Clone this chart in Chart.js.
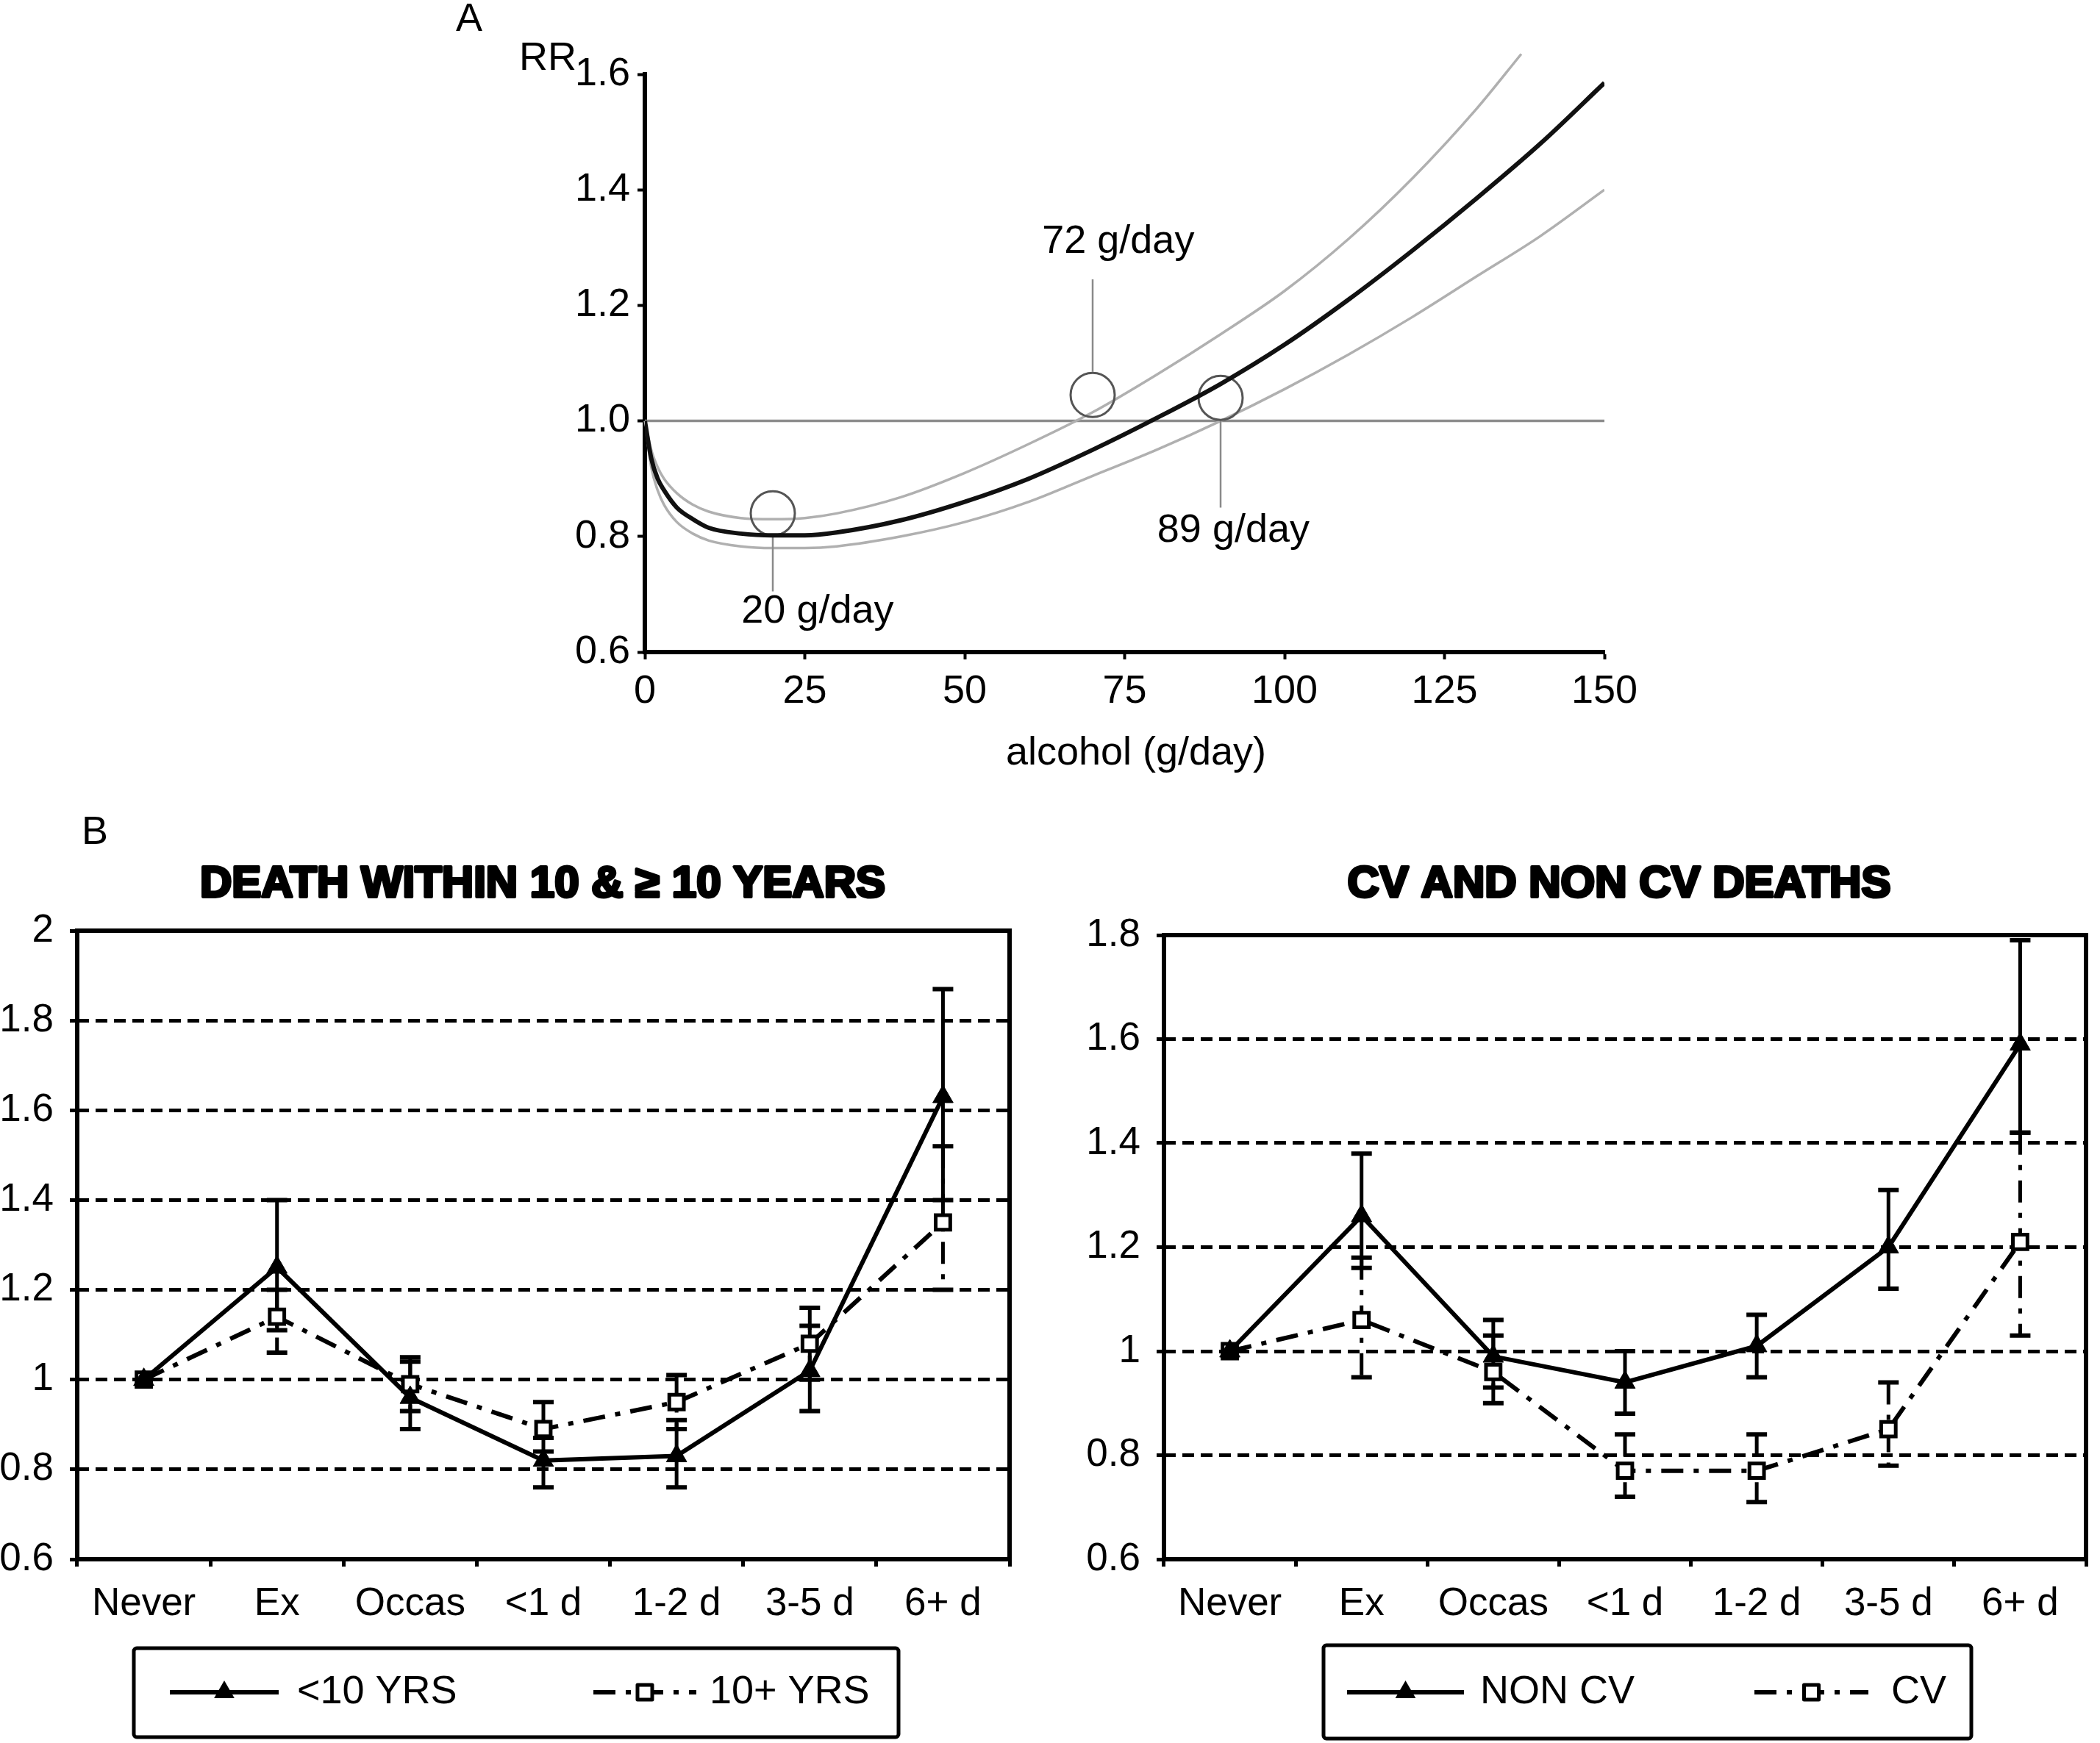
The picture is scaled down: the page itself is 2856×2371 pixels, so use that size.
<!DOCTYPE html>
<html>
<head>
<meta charset="utf-8">
<script src="https://cdn.jsdelivr.net/npm/chart.js@4.4.1/dist/chart.umd.min.js"></script>
<style>
html,body{margin:0;padding:0;background:#fff;}
body{width:2856px;height:2371px;position:relative;overflow:hidden;}
canvas{position:absolute;}
#cA{left:600px;top:0px;}
#cB1{left:0px;top:1100px;}
#cB2{left:1420px;top:1100px;}
</style>
</head>
<body>
<canvas id="cA" width="1700" height="1100"></canvas>
<canvas id="cB1" width="1420" height="1271"></canvas>
<canvas id="cB2" width="1436" height="1271"></canvas>
<script>
const FONT = "'Liberation Sans', Arial, Helvetica, sans-serif";

// ---------- Panel A data ----------
const alcoholX   = [0, 1, 2, 3, 5, 7.5, 10, 15, 20, 25, 30, 40, 50, 60, 70, 80, 90, 100, 110, 120, 130, 140, 150];
const rrCentral  = [1.00, 0.935, 0.90, 0.88, 0.85, 0.83, 0.815, 0.805, 0.802, 0.802, 0.807, 0.828, 0.86, 0.90, 0.95, 1.005, 1.064, 1.132, 1.21, 1.295, 1.385, 1.48, 1.585];
const rrLower    = [1.00, 0.92, 0.88, 0.855, 0.825, 0.805, 0.793, 0.783, 0.78, 0.78, 0.783, 0.80, 0.825, 0.86, 0.905, 0.95, 1.0, 1.055, 1.115, 1.18, 1.25, 1.32, 1.40];
const upperX     = [0, 1, 2, 3, 5, 7.5, 10, 15, 20, 25, 30, 40, 50, 60, 70, 80, 90, 100, 110, 120, 130, 137];
const rrUpper    = [1.00, 0.95, 0.92, 0.90, 0.875, 0.855, 0.843, 0.832, 0.830, 0.832, 0.84, 0.868, 0.91, 0.96, 1.015, 1.08, 1.15, 1.225, 1.315, 1.42, 1.54, 1.635];
const refX       = [0, 150];
const refY       = [1.0, 1.0];
const markX      = [20, 70, 90];
const markY      = [0.84, 1.045, 1.04];
const leaderTop  = [0.80, 1.245, 1.0];
const leaderBot  = [0.705, 1.085, 0.85];
const markLabels = ['20 g/day', '72 g/day', '89 g/day'];
const markLabelX = [27, 74, 92];
const markLabelY = [0.67, 1.31, 0.81];

// ---------- Panel B data ----------
const categories = ['Never', 'Ex', 'Occas', '<1 d', '1-2 d', '3-5 d', '6+ d'];

const under10    = [1.00, 1.25, 0.96, 0.82, 0.83, 1.02, 1.63];
const under10Lo  = [null, 1.11, 0.89, 0.76, 0.76, 0.93, 1.40];
const under10Hi  = [null, 1.40, 1.04, 0.87, 0.91, 1.12, 1.87];
const over10     = [1.00, 1.14, 0.99, 0.89, 0.95, 1.08, 1.35];
const over10Lo   = [null, 1.06, 0.93, 0.84, 0.89, 1.00, 1.20];
const over10Hi   = [null, 1.20, 1.05, 0.95, 1.01, 1.16, 1.52];

const nonCV      = [1.00, 1.26, 0.99, 0.94, 1.01, 1.20, 1.59];
const nonCVLo    = [null, 1.16, 0.93, 0.88, 0.95, 1.12, 1.42];
const nonCVHi    = [null, 1.38, 1.06, 1.00, 1.07, 1.31, 1.79];
const cv         = [1.00, 1.06, 0.96, 0.77, 0.77, 0.85, 1.21];
const cvLo       = [null, 0.95, 0.90, 0.72, 0.71, 0.78, 1.03];
const cvHi       = [null, 1.18, 1.03, 0.84, 0.84, 0.94, 1.42];

Chart.defaults.font.family = FONT;
Chart.defaults.color = '#000';

// ---------- Panel A ----------
const pts = (xs, ys) => xs.map((x, i) => ({x: x, y: ys[i]}));
const leaderData = [];
markX.forEach((x, i) => {
  leaderData.push({x: x, y: leaderTop[i]}, {x: x, y: leaderBot[i]}, {x: x, y: null});
});

const textA = {
  id: 'textA',
  afterDraw(chart) {
    const {ctx, scales: {x, y}} = chart;
    ctx.save();
    ctx.fillStyle = '#000';
    ctx.font = '54px ' + FONT;
    ctx.textAlign = 'center';
    ctx.textBaseline = 'middle';
    markLabels.forEach((t, i) => {
      ctx.fillText(t, x.getPixelForValue(markLabelX[i]), y.getPixelForValue(markLabelY[i]));
    });
    ctx.fillText('alcohol (g/day)', 945, 1025);
    ctx.textAlign = 'left';
    ctx.fillText('A', 20, 27);
    ctx.fillText('RR', 106, 80);
    ctx.restore();
  }
};

const axisCommonA = {
  grid: {display: true, drawOnChartArea: false, drawTicks: true, tickLength: 10, tickWidth: 4, tickColor: '#000'},
  border: {display: true, color: '#000', width: 6}
};

new Chart(document.getElementById('cA'), {
  type: 'line',
  data: {
    datasets: [
      {label: 'RR', data: pts(alcoholX, rrCentral), borderColor: '#111', borderWidth: 6, pointRadius: 0, cubicInterpolationMode: 'monotone'},
      {label: 'marks', data: pts(markX, markY), showLine: false, pointRadius: 30, pointHoverRadius: 30, pointBorderColor: '#555', pointBorderWidth: 3, pointBackgroundColor: 'rgba(0,0,0,0)'},
      {label: 'leaders', data: leaderData, borderColor: '#8a8a8a', borderWidth: 2.5, pointRadius: 0, tension: 0, spanGaps: false},
      {label: 'upper', data: pts(upperX, rrUpper), borderColor: '#b0b0b0', borderWidth: 3.5, pointRadius: 0, cubicInterpolationMode: 'monotone', clip: false},
      {label: 'lower', data: pts(alcoholX, rrLower), borderColor: '#b0b0b0', borderWidth: 3.5, pointRadius: 0, cubicInterpolationMode: 'monotone'},
      {label: 'ref', data: pts(refX, refY), borderColor: '#8c8c8c', borderWidth: 3.5, pointRadius: 0}
    ]
  },
  options: {
    responsive: false, animation: false, devicePixelRatio: 1,
    layout: {padding: {top: 101, right: 118, left: 0, bottom: 0}},
    plugins: {legend: {display: false}, tooltip: {enabled: false}},
    scales: {
      x: Object.assign({
        type: 'linear', min: 0, max: 150,
        ticks: {stepSize: 25, font: {size: 54}, color: '#000', padding: 12, maxRotation: 0, autoSkip: false},
        afterFit(s) { s.height = 213; }
      }, axisCommonA),
      y: Object.assign({
        type: 'linear', min: 0.6, max: 1.6,
        ticks: {stepSize: 0.2, font: {size: 54}, color: '#000', padding: 10, callback: v => Number(v).toFixed(1)},
        afterFit(s) { s.width = 277; }
      }, axisCommonA)
    }
  },
  plugins: [textA]
});

// ---------- Panel B ----------
const DASHDOT = [30, 14, 7, 14];

function drawMarker(ctx, style, x, y) {
  ctx.save();
  ctx.setLineDash([]);
  if (style === 'triangle') {
    const r = 16;
    ctx.fillStyle = '#000';
    ctx.beginPath();
    ctx.moveTo(x, y - r);
    ctx.lineTo(x + r * 0.866, y + r * 0.5);
    ctx.lineTo(x - r * 0.866, y + r * 0.5);
    ctx.closePath();
    ctx.fill();
  } else {
    const s = 10;
    ctx.fillStyle = '#fff';
    ctx.strokeStyle = '#000';
    ctx.lineWidth = 5;
    ctx.fillRect(x - s, y - s, 2 * s, 2 * s);
    ctx.strokeRect(x - s, y - s, 2 * s, 2 * s);
  }
  ctx.restore();
}

function makeB(id, cfg) {
  const errorBars = {
    id: 'errorBars',
    beforeDatasetsDraw(chart) {
      const {ctx, scales: {x, y}} = chart;
      ctx.save();
      chart.data.datasets.forEach(ds => {
        ds.errLo.forEach((lo, i) => {
          const hi = ds.errHi[i];
          if (lo == null || hi == null) return;
          const px = x.getPixelForValue(i);
          const py1 = y.getPixelForValue(lo), py2 = y.getPixelForValue(hi);
          ctx.strokeStyle = '#000';
          ctx.lineWidth = 5;
          ctx.setLineDash(ds.borderDash || []);
          ctx.beginPath(); ctx.moveTo(px, py2); ctx.lineTo(px, py1); ctx.stroke();
          ctx.setLineDash([]);
          ctx.lineWidth = 6;
          ctx.beginPath();
          ctx.moveTo(px - 14, py1); ctx.lineTo(px + 14, py1);
          ctx.moveTo(px - 14, py2); ctx.lineTo(px + 14, py2);
          ctx.stroke();
        });
      });
      ctx.restore();
    }
  };
  const frameAndText = {
    id: 'frameAndText',
    afterDraw(chart) {
      const {ctx, chartArea: a} = chart;
      ctx.save();
      ctx.strokeStyle = '#000';
      ctx.lineWidth = 6;
      ctx.setLineDash([]);
      ctx.strokeRect(a.left, a.top, a.right - a.left, a.bottom - a.top);
      // title
      ctx.fillStyle = '#000';
      ctx.textAlign = 'center';
      ctx.textBaseline = 'middle';
      ctx.font = 'bold 60px ' + FONT;
      ctx.lineWidth = 4;
      ctx.lineJoin = 'round';
      ctx.strokeText(cfg.title, cfg.titleX, 103);
      ctx.fillText(cfg.title, cfg.titleX, 103);
      if (cfg.panel) {
        ctx.font = '54px ' + FONT;
        ctx.fillText(cfg.panel, 129, 33);
      }
      // legend box
      const L = cfg.legend;
      ctx.lineWidth = 5;
      ctx.beginPath();
      if (ctx.roundRect) ctx.roundRect(L.x, L.y, L.w, L.h, 4); else ctx.rect(L.x, L.y, L.w, L.h);
      ctx.stroke();
      ctx.font = '54px ' + FONT;
      ctx.textAlign = 'left';
      chart.data.datasets.forEach((ds, i) => {
        const it = L.items[i];
        ctx.strokeStyle = '#000';
        ctx.lineWidth = 6;
        ctx.setLineDash(ds.borderDash || []);
        ctx.beginPath(); ctx.moveTo(it.x1, L.cy); ctx.lineTo(it.x2, L.cy); ctx.stroke();
        ctx.setLineDash([]);
        drawMarker(ctx, ds.pointStyle, (it.x1 + it.x2) / 2, L.cy);
        ctx.fillStyle = '#000';
        ctx.fillText(ds.label, it.tx, L.cy);
      });
      ctx.restore();
    }
  };

  const mk = (s) => s.style === 'solid' ? {
    label: s.label, data: s.data, errLo: s.lo, errHi: s.hi,
    borderColor: '#000', borderWidth: 6, pointStyle: 'triangle', pointRadius: 16,
    pointBackgroundColor: '#000', pointBorderColor: '#000', pointBorderWidth: 1, tension: 0
  } : {
    label: s.label, data: s.data, errLo: s.lo, errHi: s.hi,
    borderColor: '#000', borderWidth: 6, borderDash: DASHDOT, pointStyle: 'rect', pointRadius: 14,
    pointBackgroundColor: '#fff', pointBorderColor: '#000', pointBorderWidth: 5, tension: 0
  };

  new Chart(document.getElementById(id), {
    type: 'line',
    data: {labels: categories, datasets: cfg.series.map(mk)},
    options: {
      responsive: false, animation: false, devicePixelRatio: 1,
      layout: {padding: {top: cfg.top, right: cfg.right, left: 0, bottom: 0}},
      plugins: {legend: {display: false}, tooltip: {enabled: false}, title: {display: false}},
      scales: {
        x: {
          type: 'category', offset: true,
          grid: {display: true, offset: true, drawOnChartArea: false, drawTicks: true, tickLength: 10, tickWidth: 5, tickColor: '#000'},
          border: {display: false},
          ticks: {font: {size: 53}, color: '#000', padding: 20, maxRotation: 0, autoSkip: false},
          afterFit(s) { s.height = 250; }
        },
        y: {
          type: 'linear', min: 0.6, max: cfg.ymax,
          grid: {display: true, drawOnChartArea: true, drawTicks: true, tickLength: 10, tickWidth: 5, tickColor: '#000', color: '#000', lineWidth: 5},
          border: {display: false, dash: [16, 9]},
          ticks: {stepSize: 0.2, font: {size: 53}, color: '#000', padding: 22, callback: v => String(Number(Number(v).toFixed(1)))},
          afterFit(s) { s.width = cfg.left; }
        }
      }
    },
    plugins: [errorBars, frameAndText]
  });
}

makeB('cB1', {
  title: 'DEATH WITHIN 10 & \u2265 10 YEARS', titleX: 738, panel: 'B',
  ymax: 2.0, left: 105, right: 47, top: 166,
  series: [
    {label: '<10 YRS', data: under10, lo: under10Lo, hi: under10Hi, style: 'solid'},
    {label: '10+ YRS', data: over10, lo: over10Lo, hi: over10Hi, style: 'dashdot'}
  ],
  legend: {x: 182, y: 1142, w: 1040, h: 121, cy: 1202,
    items: [{x1: 231, x2: 379, tx: 404}, {x1: 807, x2: 947, tx: 965}]}
});

makeB('cB2', {
  title: 'CV AND NON CV DEATHS', titleX: 782, panel: null,
  ymax: 1.8, left: 163, right: 6, top: 172,
  series: [
    {label: 'NON CV', data: nonCV, lo: nonCVLo, hi: nonCVHi, style: 'solid'},
    {label: 'CV', data: cv, lo: cvLo, hi: cvHi, style: 'dashdot'}
  ],
  legend: {x: 380, y: 1138, w: 881, h: 127, cy: 1202,
    items: [{x1: 412, x2: 571, tx: 593}, {x1: 966, x2: 1121, tx: 1152}]}
});
</script>
</body>
</html>
